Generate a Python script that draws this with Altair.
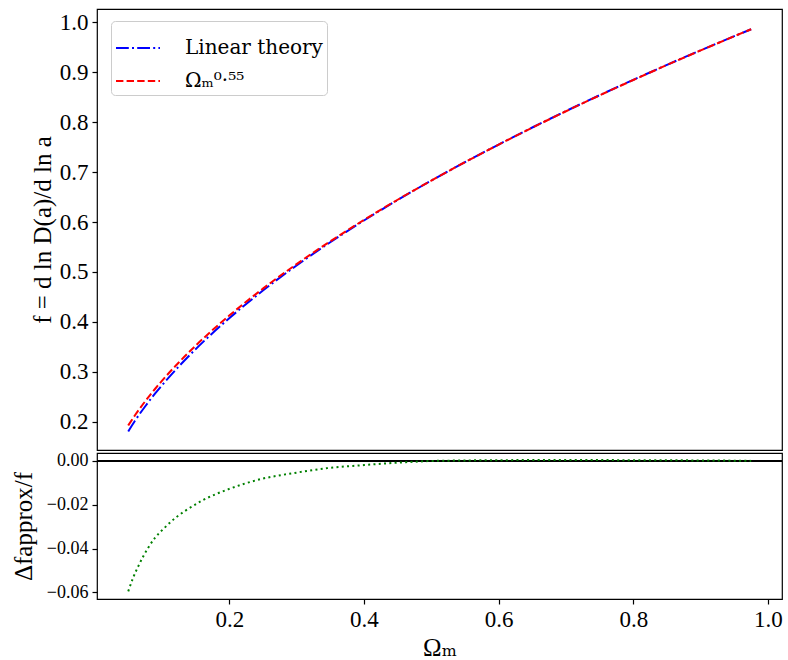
import altair as alt
import pandas as pd

# ---- data ----
omega_curve = [0.05, 0.06, 0.075, 0.09, 0.1, 0.125, 0.15, 0.2, 0.25, 0.3, 0.35, 0.4,
               0.45, 0.5, 0.55, 0.6, 0.65, 0.7, 0.75, 0.8, 0.85, 0.9, 0.95, 0.975]
f_linear = [0.1805, 0.2019, 0.2305, 0.2567, 0.2728, 0.3106, 0.3452, 0.4073, 0.4627,
            0.5130, 0.5595, 0.6030, 0.6441, 0.6829, 0.7199, 0.7552, 0.7893, 0.8222,
            0.8540, 0.8848, 0.9148, 0.9439, 0.9723, 0.9862]
f_approx = [0.1925, 0.2128, 0.2406, 0.2660, 0.2818, 0.3186, 0.3522, 0.4126, 0.4665,
            0.5157, 0.5613, 0.6041, 0.6446, 0.6830, 0.7198, 0.7550, 0.7890, 0.8219,
            0.8537, 0.8845, 0.9145, 0.9437, 0.9722, 0.9862]

omega_resid = [0.05, 0.057, 0.065, 0.079, 0.09, 0.104, 0.12, 0.134, 0.161, 0.198,
               0.247, 0.297, 0.346, 0.396, 0.446, 0.495, 0.55, 0.6, 0.65, 0.7, 0.75,
               0.8, 0.85, 0.9, 0.95, 0.975]
resid = [-0.0595, -0.0535, -0.048, -0.0399, -0.035, -0.0305, -0.026, -0.0229, -0.0179,
         -0.0130, -0.0083, -0.0055, -0.0033, -0.0020, -0.0009, -0.0001, 0.0002, 0.0003,
         0.0004, 0.0004, 0.0004, 0.0003, 0.0003, 0.0002, 0.0001, 0.0]

series_names = ["Linear theory", "Ωₘ⁰·⁵⁵"]
x_ticks = [0.2, 0.4, 0.6, 0.8, 1.0]
top_ticks = [0.2, 0.3, 0.4, 0.5, 0.6, 0.7, 0.8, 0.9, 1.0]
bottom_ticks = [0.0, -0.02, -0.04, -0.06]

FONT = "Liberation Serif, DejaVu Serif, serif"
LEGEND_FONT = "DejaVu Serif, serif"

curves = pd.concat([
    pd.DataFrame({"omega": omega_curve, "f": f_linear, "series": series_names[0], "order": 0}),
    pd.DataFrame({"omega": omega_curve, "f": f_approx, "series": series_names[1], "order": 1}),
])
res_df = pd.DataFrame({"omega": omega_resid, "r": resid})

xscale = alt.Scale(domain=[0.0036, 1.0208], nice=False, zero=False)

top = alt.Chart(curves).mark_line(strokeWidth=2, interpolate="monotone").encode(
    x=alt.X("omega:Q", scale=xscale, axis=None),
    y=alt.Y("f:Q", scale=alt.Scale(domain=[0.1433, 1.0267], nice=False, zero=False),
            axis=alt.Axis(values=top_ticks, format=".1f", title="f = d ln D(a)/d ln a",
                          titlePadding=4)),
    color=alt.Color("series:N", scale=alt.Scale(domain=series_names, range=["#0000ff", "#ff0000"]),
                    legend=alt.Legend(title=None, orient="none", legendX=14, legendY=12,
                                      fillColor="white", strokeColor="#cccccc", cornerRadius=4,
                                      padding=4, labelFont=LEGEND_FONT, labelFontSize=20,
                                      labelColor="black", symbolType="stroke",
                                      symbolSize=1936, symbolStrokeWidth=2, labelOffset=24,
                                      rowPadding=-5)),
    strokeDash=alt.StrokeDash("series:N", scale=alt.Scale(domain=series_names,
                              range=[[12.8, 3.2, 2, 3.2], [7.4, 3.2]]), legend=alt.Legend(title=None)),
    order="order:Q",
).properties(width=685, height=441)

zero_rule = alt.Chart(res_df).mark_rule(color="black", strokeWidth=2).encode(y=alt.datum(0))
resid_line = alt.Chart(res_df).mark_line(strokeWidth=2, color="#008000", strokeDash=[2, 3.3],
                                         interpolate="monotone").encode(
    x=alt.X("omega:Q", scale=xscale,
            axis=alt.Axis(values=x_ticks, format=".1f", title="Ωₘ", labelPadding=4,
                          titlePadding=4)),
    y=alt.Y("r:Q", scale=alt.Scale(domain=[-0.063, 0.0036], nice=False, zero=False),
            axis=alt.Axis(values=bottom_ticks, format=".2f", title="Δfapprox/f",
                          labelFontSize=18, titlePadding=10)),
)

bottom = alt.layer(zero_rule, resid_line).properties(width=685, height=146)

chart = alt.vconcat(top, bottom, spacing=0).resolve_scale(
    y="independent", color="independent", strokeDash="independent"
).properties(
    padding={"left": 10, "top": 8, "right": 4, "bottom": 0},
    background="white",
).configure_view(
    stroke="black", strokeWidth=1.2
).configure_axis(
    domain=False, grid=False, labelFont=FONT, labelFontSize=23, labelColor="black",
    tickColor="black", tickSize=5, tickWidth=1.2, labelPadding=4,
    titleFont=FONT, titleFontSize=25, titleFontWeight="normal", titleColor="black"
)

chart.save("out.html", embed_options={"renderer": "svg", "actions": False})
